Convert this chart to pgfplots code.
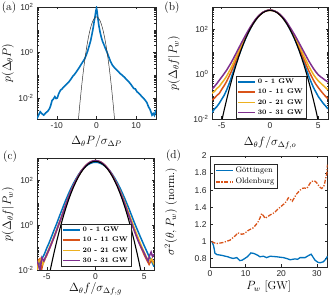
\documentclass[border=0pt]{standalone}
\usepackage{fontspec}
\usepackage{pgfplots}
\pgfplotsset{compat=1.18}
\newfontfamily\tickfont{Liberation Sans}
\definecolor{mblue}{rgb}{0,0.447,0.741}
\definecolor{morange}{rgb}{0.85,0.325,0.098}
\definecolor{myellow}{rgb}{0.929,0.694,0.125}
\definecolor{mpurple}{rgb}{0.494,0.184,0.556}
\tikzset{letter/.style={font=\fontsize{11.5}{13}\selectfont, anchor=center}}
\pgfplotsset{
  panel/.style={scale only axis, tick align=inside, tick pos=both,
    major tick length=2.5bp, minor tick length=1.5bp,
    axis line style={black!85, line width=0.5bp},
    every tick/.style={black!85, line width=0.4bp},
    tick label style={font=\tickfont\fontsize{8.5}{9}\selectfont, text=black!85},
    label style={font=\fontsize{11.5}{13}\selectfont},
    clip mode=individual},
  logpanel/.style={panel, ytick={-2,0,2},
    yticklabels={10\textsuperscript{-2},10\textsuperscript{0},10\textsuperscript{2}},
    minor ytick={-2.699,-2.523,-2.398,-2.301,-2.222,-2.155,-2.097,-2.046,
      -1.699,-1.523,-1.398,-1.301,-1.222,-1.155,-1.097,-1.046,-1,
      -0.699,-0.523,-0.398,-0.301,-0.222,-0.155,-0.097,-0.046,
      0.301,0.477,0.602,0.699,0.778,0.845,0.903,0.954,1,
      1.301,1.477,1.602,1.699,1.778,1.845,1.903,1.954,
      2.301,2.477,2.602,2.699,2.778,2.845,2.903,2.954}},
  gwlegend/.style={legend style={anchor=south west, draw=black!85, line width=0.5bp,
    fill=white, inner sep=1bp, font=\bfseries\fontsize{6.8}{8}\selectfont,
    cells={anchor=west}}, legend cell align=left},
}
\begin{document}
\begin{tikzpicture}
\useasboundingbox (0,0) rectangle (331bp,296bp);
% ---------------- (a)
\begin{axis}[logpanel, at={(37bp,177bp)}, anchor=south west, width=119bp, height=112bp,
  xmin=-15, xmax=15, ymin=-2.92, ymax=2,
  xtick={-10,0,10}, xticklabels={-10,0,10},
  xlabel={$\Delta_\theta P/\sigma_{\Delta P}$}, ylabel={$p(\Delta_\theta P)$},
  xlabel style={at={(axis description cs:0.5,-0.205)}, anchor=center},
  ylabel style={at={(axis description cs:-0.244,0.5)}, anchor=center}]
\addplot[mblue, line width=1.6bp] coordinates {
(-15,-2.9) (-14.6,-2.75) (-14.2,-2.6) (-13.8,-2.68) (-13.3,-2.75) (-12.8,-2.65) (-12.3,-2.58)
(-11.8,-2.45) (-11.5,-2.3) (-11.2,-2.1) (-10.9,-2.05) (-10.5,-1.94) (-10.2,-2.02) (-9.9,-2.0)
(-9.5,-1.8) (-9.1,-1.66) (-8.7,-1.6) (-8.3,-1.52) (-7.9,-1.45) (-7.4,-1.36) (-7.0,-1.3)
(-6.5,-1.18) (-6.0,-1.05) (-5.5,-0.95) (-5.0,-0.83) (-4.5,-0.7) (-4.0,-0.56) (-3.5,-0.42)
(-3.0,-0.28) (-2.6,-0.12) (-2.2,0.08) (-1.8,0.32) (-1.5,0.5) (-1.2,0.75) (-0.9,1.02)
(-0.6,1.35) (-0.4,1.55) (-0.2,1.78) (0,1.95) (0.15,1.8) (0.35,1.5) (0.6,1.18) (0.9,0.9)
(1.2,0.68) (1.5,0.5) (1.8,0.38) (2.2,0.2) (2.6,0.04) (3.0,-0.15) (3.5,-0.38) (4.0,-0.55)
(4.5,-0.66) (5.0,-0.75) (5.5,-0.84) (6.0,-0.93) (6.5,-1.0) (7.0,-1.08) (7.5,-1.17)
(8.0,-1.26) (8.5,-1.36) (9.0,-1.48) (9.4,-1.58) (9.8,-1.6) (10.2,-1.72) (10.6,-1.78)
(11.0,-1.85) (11.5,-1.95) (11.9,-2.02) (12.3,-2.1) (12.7,-2.2) (13.1,-2.38) (13.5,-2.5)
(14.0,-2.75) (14.3,-2.68) (14.6,-2.76) (15.0,-2.52)};
\addplot[black!80, line width=0.5bp] coordinates {
(-4.75,-3.33) (-4.5,-2.828) (-4.25,-2.353) (-4,-1.906) (-3.75,-1.485) (-3.5,-1.091)
(-3.25,-0.725) (-3,-0.386) (-2.75,-0.074) (-2.5,0.211) (-2.25,0.469) (-2,0.700)
(-1.75,0.903) (-1.5,1.080) (-1.25,1.229) (-1,1.351) (-0.75,1.446) (-0.5,1.514)
(-0.25,1.554) (0,1.568) (0.25,1.554) (0.5,1.514) (0.75,1.446) (1,1.351) (1.25,1.229)
(1.5,1.080) (1.75,0.903) (2,0.700) (2.25,0.469) (2.5,0.211) (2.75,-0.074) (3,-0.386)
(3.25,-0.725) (3.5,-1.091) (3.75,-1.485) (4,-1.906) (4.25,-2.353) (4.5,-2.828) (4.75,-3.33)};
\node[letter] at (axis description cs:-0.235,0.99) {(a)};
\end{axis}
% ---------------- (b)
\begin{axis}[logpanel, gwlegend, at={(212bp,177bp)}, anchor=south west, width=116bp, height=112bp,
  xmin=-6, xmax=6, ymin=-2, ymax=3,
  xtick={-5,0,5}, xticklabels={-5,0,5},
  xlabel={$\Delta_\theta f/\sigma_{\Delta f,o}$}, ylabel={$p(\Delta_\theta f|P_w)$},
  xlabel style={at={(axis description cs:0.5,-0.21)}, anchor=center},
  ylabel style={at={(axis description cs:-0.328,0.5)}, anchor=center},
  legend style={at={(axis description cs:0.207,0)}}]
\addplot[mblue, line width=1.5bp] coordinates {
(-6,-1.71) (-5.75,-1.56) (-5.5,-1.45) (-5.25,-1.3) (-5,-1.12) (-4.75,-0.95) (-4.5,-0.72)
(-4.25,-0.45) (-4,-0.15) (-3.75,0.17) (-3.5,0.5) (-3.25,0.8) (-3,1.09) (-2.75,1.36)
(-2.5,1.62) (-2.25,1.85) (-2,2.06) (-1.75,2.25) (-1.5,2.41) (-1.25,2.555) (-1,2.67)
(-0.75,2.755) (-0.5,2.815) (-0.25,2.85) (0,2.865) (0.25,2.85) (0.5,2.815) (0.75,2.755)
(1,2.67) (1.25,2.555) (1.5,2.41) (1.75,2.25) (2,2.06) (2.25,1.85) (2.5,1.62) (2.75,1.37)
(3,1.1) (3.25,0.82) (3.5,0.53) (3.75,0.23) (4,-0.08) (4.25,-0.35) (4.5,-0.6) (4.75,-0.8)
(5,-1.0) (5.25,-1.15) (5.5,-1.3) (5.75,-1.42) (6,-1.55)};
\addplot[morange, line width=1.5bp] coordinates {
(-6,-1.15) (-5.75,-1.07) (-5.5,-0.95) (-5.25,-0.86) (-5,-0.68) (-4.75,-0.52) (-4.5,-0.33)
(-4.25,-0.11) (-4,0.12) (-3.75,0.38) (-3.5,0.64) (-3.25,0.91) (-3,1.17) (-2.75,1.42)
(-2.5,1.66) (-2.25,1.88) (-2,2.08) (-1.75,2.26) (-1.5,2.42) (-1.25,2.56) (-1,2.67)
(-0.75,2.755) (-0.5,2.81) (-0.25,2.845) (0,2.855) (0.25,2.845) (0.5,2.81) (0.75,2.755)
(1,2.67) (1.25,2.56) (1.5,2.42) (1.75,2.265) (2,2.08) (2.25,1.885) (2.5,1.67) (2.75,1.44)
(3,1.19) (3.25,0.93) (3.5,0.67) (3.75,0.41) (4,0.16) (4.25,-0.06) (4.5,-0.27) (4.75,-0.45)
(5,-0.6) (5.25,-0.74) (5.5,-0.87) (5.75,-0.99) (6,-1.1)};
\addplot[myellow, line width=1.5bp] coordinates {
(-6,-0.85) (-5.75,-0.77) (-5.5,-0.64) (-5.25,-0.55) (-5,-0.4) (-4.75,-0.26) (-4.5,-0.1)
(-4.25,0.1) (-4,0.3) (-3.75,0.54) (-3.5,0.78) (-3.25,1.02) (-3,1.26) (-2.75,1.49)
(-2.5,1.71) (-2.25,1.91) (-2,2.10) (-1.75,2.28) (-1.5,2.43) (-1.25,2.565) (-1,2.67)
(-0.75,2.755) (-0.5,2.81) (-0.25,2.845) (0,2.855) (0.25,2.845) (0.5,2.81) (0.75,2.755)
(1,2.67) (1.25,2.565) (1.5,2.43) (1.75,2.285) (2,2.11) (2.25,1.925) (2.5,1.73) (2.75,1.515)
(3,1.29) (3.25,1.06) (3.5,0.83) (3.75,0.6) (4,0.37) (4.25,0.17) (4.5,-0.02) (4.75,-0.17)
(5,-0.3) (5.25,-0.4) (5.5,-0.5) (5.75,-0.6) (6,-0.7)};
\addplot[mpurple, line width=1.5bp] coordinates {
(-6,-0.67) (-5.75,-0.55) (-5.5,-0.42) (-5.25,-0.27) (-5,-0.13) (-4.75,0.02) (-4.5,0.17)
(-4.25,0.35) (-4,0.53) (-3.75,0.73) (-3.5,0.94) (-3.25,1.15) (-3,1.36) (-2.75,1.56)
(-2.5,1.76) (-2.25,1.95) (-2,2.13) (-1.75,2.29) (-1.5,2.45) (-1.25,2.575) (-1,2.675)
(-0.75,2.76) (-0.5,2.815) (-0.25,2.85) (0,2.86) (0.25,2.85) (0.5,2.815) (0.75,2.76)
(1,2.68) (1.25,2.58) (1.5,2.46) (1.75,2.31) (2,2.14) (2.25,1.97) (2.5,1.79) (2.75,1.6)
(3,1.4) (3.25,1.2) (3.5,1.0) (3.75,0.8) (4,0.6) (4.25,0.42) (4.5,0.25) (4.75,0.1)
(5,-0.03) (5.25,-0.12) (5.5,-0.2) (5.75,-0.28) (6,-0.35)};
\addplot[black, line width=1.1bp, forget plot] coordinates {
(-5,-2.10) (-4.75,-1.617) (-4.5,-1.160) (-4.25,-0.726) (-4,-0.318) (-3.75,0.066)
(-3.5,0.425) (-3.25,0.759) (-3,1.068) (-2.75,1.353) (-2.5,1.613) (-2.25,1.848) (-2,2.058)
(-1.75,2.244) (-1.5,2.405) (-1.25,2.541) (-1,2.652) (-0.75,2.739) (-0.5,2.800) (-0.25,2.838)
(0,2.85) (0.25,2.838) (0.5,2.800) (0.75,2.739) (1,2.652) (1.25,2.541) (1.5,2.405)
(1.75,2.244) (2,2.058) (2.25,1.848) (2.5,1.613) (2.75,1.353) (3,1.068) (3.25,0.759)
(3.5,0.425) (3.75,0.066) (4,-0.318) (4.25,-0.726) (4.5,-1.160) (4.75,-1.617) (5,-2.10)};
\legend{0 - 1 GW, 10 - 11 GW, 20 - 21 GW, 30 - 31 GW}
\node[letter] at (axis description cs:-0.345,0.99) {(b)};
\end{axis}
% ---------------- (c)
\begin{axis}[logpanel, gwlegend, at={(37bp,26bp)}, anchor=south west, width=117bp, height=112bp,
  xmin=-6, xmax=6, ymin=-2, ymax=3,
  xtick={-5,0,5}, xticklabels={-5,0,5},
  xlabel={$\Delta_\theta f/\sigma_{\Delta f,g}$}, ylabel={$p(\Delta_\theta f|P_w)$},
  xlabel style={at={(axis description cs:0.5,-0.17)}, anchor=center},
  ylabel style={at={(axis description cs:-0.248,0.5)}, anchor=center},
  legend style={at={(axis description cs:0.205,0.027)}}]
\addplot[mblue, line width=1.5bp] coordinates {
(-6,-1.95) (-5.75,-1.7) (-5.5,-1.5) (-5.25,-1.3) (-5,-1.02) (-4.75,-0.78) (-4.5,-0.5)
(-4.25,-0.22) (-4,0.05) (-3.75,0.34) (-3.5,0.62) (-3.25,0.9) (-3,1.17) (-2.75,1.42)
(-2.5,1.66) (-2.25,1.875) (-2,2.07) (-1.75,2.25) (-1.5,2.41) (-1.25,2.53) (-1,2.63)
(-0.75,2.71) (-0.5,2.765) (-0.25,2.80) (0,2.81) (0.25,2.80) (0.5,2.765) (0.75,2.71)
(1,2.63) (1.25,2.53) (1.5,2.41) (1.75,2.255) (2,2.08) (2.25,1.885) (2.5,1.675) (2.75,1.44)
(3,1.19) (3.25,0.93) (3.5,0.66) (3.75,0.38) (4,0.1) (4.25,-0.16) (4.5,-0.42) (4.75,-0.67)
(5,-0.92) (5.25,-1.16) (5.5,-1.4) (5.75,-1.6) (6,-1.85)};
\addplot[morange, line width=1.5bp] coordinates {
(-6,-1.9) (-5.85,-1.55) (-5.7,-1.5) (-5.55,-2.05) (-5.4,-1.7) (-5.25,-1.55) (-5,-1.35)
(-4.75,-1.08) (-4.5,-0.82) (-4.25,-0.54) (-4,-0.25) (-3.75,0.05) (-3.5,0.34) (-3.25,0.65)
(-3,0.96) (-2.75,1.25) (-2.5,1.52) (-2.25,1.77) (-2,2.0) (-1.75,2.205) (-1.5,2.385)
(-1.25,2.535) (-1,2.66) (-0.75,2.755) (-0.5,2.825) (-0.25,2.866) (0,2.88) (0.25,2.866)
(0.5,2.825) (0.75,2.755) (1,2.66) (1.25,2.535) (1.5,2.385) (1.75,2.205) (2,2.0) (2.25,1.77)
(2.5,1.52) (2.75,1.25) (3,0.96) (3.25,0.66) (3.5,0.35) (3.75,0.05) (4,-0.25) (4.25,-0.53)
(4.5,-0.8) (4.75,-1.07) (5,-1.33) (5.25,-1.55) (5.5,-1.75) (5.75,-1.55) (6,-1.65)};
\addplot[myellow, line width=1.5bp] coordinates {
(-6,-2.05) (-5.8,-1.6) (-5.6,-1.5) (-5.4,-1.75) (-5.2,-1.55) (-5,-1.28) (-4.75,-1.03)
(-4.5,-0.77) (-4.25,-0.5) (-4,-0.22) (-3.75,0.07) (-3.5,0.36) (-3.25,0.66) (-3,0.97)
(-2.75,1.26) (-2.5,1.53) (-2.25,1.775) (-2,2.0) (-1.75,2.205) (-1.5,2.385) (-1.25,2.535)
(-1,2.66) (-0.75,2.755) (-0.5,2.825) (-0.25,2.866) (0,2.88) (0.25,2.866) (0.5,2.825)
(0.75,2.755) (1,2.66) (1.25,2.535) (1.5,2.385) (1.75,2.21) (2,2.01) (2.25,1.79) (2.5,1.55)
(2.75,1.29) (3,1.02) (3.25,0.73) (3.5,0.43) (3.75,0.14) (4,-0.15) (4.25,-0.43) (4.5,-0.7)
(4.75,-0.97) (5,-1.22) (5.25,-1.45) (5.5,-1.6) (5.75,-1.5) (6,-1.75)};
\addplot[mpurple, line width=1.5bp] coordinates {
(-6,-1.6) (-5.85,-1.75) (-5.7,-2.05) (-5.5,-1.45) (-5.3,-1.6) (-5.15,-1.45) (-5,-1.3)
(-4.75,-1.07) (-4.5,-0.8) (-4.25,-0.53) (-4,-0.24) (-3.75,0.06) (-3.5,0.35) (-3.25,0.66)
(-3,0.97) (-2.75,1.26) (-2.5,1.53) (-2.25,1.78) (-2,2.01) (-1.75,2.21) (-1.5,2.39)
(-1.25,2.54) (-1,2.665) (-0.75,2.76) (-0.5,2.83) (-0.25,2.87) (0,2.885) (0.25,2.87)
(0.5,2.83) (0.75,2.76) (1,2.665) (1.25,2.54) (1.5,2.39) (1.75,2.21) (2,2.0) (2.25,1.77)
(2.5,1.52) (2.75,1.25) (3,0.96) (3.25,0.65) (3.5,0.34) (3.75,0.03) (4,-0.27) (4.25,-0.56)
(4.5,-0.83) (4.75,-1.05) (5,-1.25) (5.2,-1.45) (5.4,-1.6) (5.55,-1.35) (5.7,-1.2)
(5.85,-1.4) (6,-1.3)};
\addplot[black, line width=1.1bp, forget plot] coordinates {
(-4.75,-2.24) (-4.5,-1.718) (-4.25,-1.225) (-4,-0.76) (-3.75,-0.322) (-3.5,0.086)
(-3.25,0.467) (-3,0.82) (-2.75,1.144) (-2.5,1.44) (-2.25,1.708) (-2,1.948) (-1.75,2.159)
(-1.5,2.342) (-1.25,2.498) (-1,2.624) (-0.75,2.723) (-0.5,2.794) (-0.25,2.836) (0,2.85)
(0.25,2.836) (0.5,2.794) (0.75,2.723) (1,2.624) (1.25,2.498) (1.5,2.342) (1.75,2.159)
(2,1.948) (2.25,1.708) (2.5,1.44) (2.75,1.144) (3,0.82) (3.25,0.467) (3.5,0.086)
(3.75,-0.322) (4,-0.76) (4.25,-1.225) (4.5,-1.718) (4.75,-2.24)};
\legend{0 - 1 GW, 10 - 11 GW, 20 - 21 GW, 30 - 31 GW}
\node[letter] at (axis description cs:-0.23,1.01) {(c)};
\end{axis}
% ---------------- (d)
\begin{axis}[panel, at={(210bp,29bp)}, anchor=south west, width=117.5bp, height=111bp,
  xmin=0, xmax=33, ymin=0.7, ymax=2,
  xtick={0,10,20,30}, xticklabels={0,10,20,30},
  ytick={0.8,1,1.2,1.4,1.6,1.8,2}, yticklabels={0.8,1,1.2,1.4,1.6,1.8,2},
  xlabel={$P_w$ [GW]}, ylabel={$\sigma^2(\theta,P_w)$ (norm.)},
  xlabel style={at={(axis description cs:0.5,-0.18)}, anchor=center},
  ylabel style={at={(axis description cs:-0.332,0.5)}, anchor=center},
  legend style={at={(axis description cs:0.034,0.928)}, anchor=north west,
    draw=black!85, line width=0.5bp, fill=white, inner sep=1bp,
    font=\fontsize{8}{9}\selectfont, cells={anchor=west}}, legend cell align=left]
\addplot[mblue, line width=1.3bp] coordinates {
(0.5,1.0) (1.0,0.95) (1.4,0.86) (2,0.845) (2.8,0.84) (3.5,0.835) (4.2,0.827) (5,0.82)
(5.6,0.81) (6.5,0.80) (7.5,0.81) (8.4,0.775) (9,0.78) (9.6,0.795) (10.5,0.82) (11.5,0.865)
(12.2,0.86) (12.8,0.85) (13.5,0.835) (14,0.82) (15,0.826) (15.9,0.81) (16.9,0.826)
(17.8,0.823) (18.7,0.82) (19.6,0.815) (20.6,0.81) (21.5,0.80) (22.5,0.785) (23.2,0.79)
(23.9,0.795) (24.6,0.79) (25.3,0.81) (26.7,0.81) (27.5,0.83) (28.4,0.85) (29.5,0.78)
(30.3,0.755) (30.9,0.75) (31.8,0.76) (32.5,0.79) (33,0.826)};
\addplot[morange, line width=1.3bp, dash pattern=on 4bp off 1.5bp on 1.2bp off 1.5bp] coordinates {
(0.5,1.0) (1.0,0.985) (1.9,0.975) (2.8,0.98) (3.7,0.987) (4.6,1.0) (5.6,1.014) (6.5,1.045)
(7.2,1.07) (7.8,1.10) (8.4,1.09) (8.9,1.084) (9.6,1.09) (10.2,1.11) (10.8,1.13) (11.5,1.145)
(12.2,1.16) (12.8,1.19) (13.4,1.22) (14,1.27) (14.5,1.326) (15,1.30) (15.5,1.27) (16.2,1.29)
(16.9,1.31) (17.6,1.325) (18.3,1.345) (19,1.375) (19.7,1.40) (20.4,1.425) (21.1,1.45)
(21.6,1.48) (22.0,1.51) (22.6,1.49) (23.1,1.47) (23.8,1.52) (24.4,1.56) (25.1,1.59)
(25.8,1.62) (26.5,1.625) (27.2,1.62) (27.8,1.66) (28.4,1.70) (29.3,1.71) (29.9,1.69)
(30.4,1.66) (31,1.63) (31.4,1.62) (31.8,1.635) (32.1,1.66) (32.5,1.74) (32.8,1.79) (33,1.9)};
\legend{G\"ottingen, Oldenburg}
\node[letter] at (axis description cs:-0.31,1.0) {(d)};
\end{axis}
\end{tikzpicture}
\end{document}
